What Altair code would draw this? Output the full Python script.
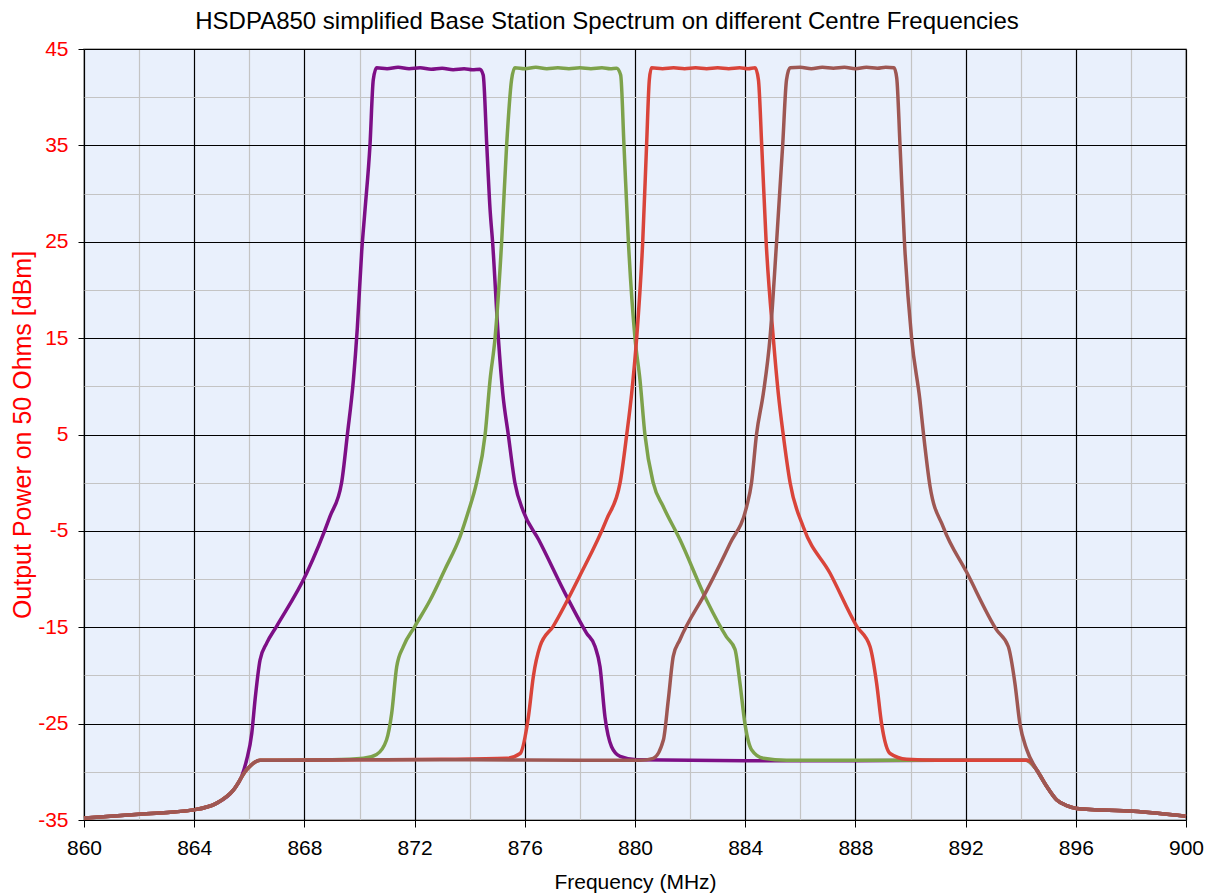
import altair as alt
import pandas as pd

# ---- data ----
series_names = ["872.5 MHz", "877.5 MHz", "882.5 MHz", "887.5 MHz"]
series_colors = ["#7d0f86", "#7da24b", "#d9443a", "#9e5753"]

purple_x = [860, 862, 863.97, 864.82, 865.42, 865.72, 865.9, 866.09, 866.21, 866.39, 866.63, 866.99,
            868.08, 868.93, 869.35, 869.56, 869.78, 869.92, 870.08, 870.2, 870.38, 870.5, 870.62,
            871.0, 871.4, 871.8, 872.2, 872.6, 873.0, 873.4, 873.8, 874.1, 874.37,
            874.49, 874.62, 874.74, 874.83, 875.04, 875.2, 875.4, 875.64, 875.95, 876.5, 877.52,
            878.24, 878.55, 878.73, 878.91, 879.15, 879.46, 880.06, 884, 888, 891, 894.2,
            894.58, 894.94, 895.3, 895.67, 896.03, 898.09, 900]
purple_y = [-34.8, -34.4, -33.95, -33.25, -31.9, -30.5, -28.8, -26.0, -22.5, -18.4, -16.65, -14.9,
            -9.4, -3.5, 0, 5, 10.7, 16, 24, 28.3, 35, 41.8, 43.05,
            42.95, 43.1, 42.95, 43.05, 42.9, 43.0, 42.85, 42.95, 42.85, 42.9,
            42.3, 35, 28.3, 25, 15, 9.3, 5, 0, -3.0, -5.9, -11.8,
            -15.6, -17.0, -19.1, -24.3, -27.4, -28.4, -28.75, -28.85, -28.85, -28.8, -28.8,
            -29.8, -31.5, -32.9, -33.5, -33.8, -34.1, -34.6]

green_x = [860, 862, 863.97, 864.82, 865.42, 865.9, 866.39, 867, 869, 870.14, 870.62, 870.98,
           871.17, 871.35, 871.59, 872.01, 872.56, 873.1, 873.65, 873.95, 874.25, 874.56, 874.74,
           874.92, 875.16, 875.34, 875.52, 875.64,
           876.0, 876.4, 876.8, 877.2, 877.6, 878.0, 878.4, 878.8, 879.1, 879.33,
           879.48, 879.6, 879.76, 880.0, 880.18, 880.36, 880.66, 881.03, 881.63, 882.6,
           883.32, 883.63, 883.81, 883.99, 884.23, 884.66, 885.5, 888, 891, 894.2,
           894.58, 894.94, 895.3, 895.67, 896.03, 898.09, 900]
green_y = [-34.8, -34.4, -33.95, -33.25, -31.9, -29.8, -28.8, -28.8, -28.75, -28.6, -28.2, -26.7,
           -23.9, -19.1, -17.0, -14.9, -12.2, -9.0, -5.6, -3.0, 0, 5, 10.7,
           15, 25, 35, 41.8, 43.05,
           42.95, 43.1, 42.95, 43.05, 42.95, 43.05, 42.95, 43.05, 42.95, 43.0,
           42.3, 35, 25, 15, 10.7, 5, 0, -2.5, -5.9, -12.2,
           -16.0, -17.3, -20.8, -25.0, -27.7, -28.6, -28.8, -28.8, -28.8, -28.8,
           -29.8, -31.5, -32.9, -33.5, -33.8, -34.1, -34.6]

red_x = [860, 862, 863.97, 864.82, 865.42, 865.9, 866.39, 867, 870, 873, 875.34, 875.83,
         876.13, 876.31, 876.55, 877.03, 877.99, 878.97, 879.46, 879.7, 879.88, 880.06, 880.28,
         880.42, 880.52, 880.6,
         881.0, 881.4, 881.8, 882.2, 882.6, 883.0, 883.4, 883.8, 884.1, 884.36,
         884.48, 884.6, 884.76, 885.02, 885.2, 885.38, 885.63, 886.11, 887.08, 888.05,
         888.53, 888.77, 888.95, 889.26, 889.86, 891, 894.2, 894.34,
         894.58, 894.94, 895.3, 895.67, 896.03, 898.09, 900]
red_y = [-34.8, -34.4, -33.95, -33.25, -31.9, -29.8, -28.8, -28.8, -28.75, -28.7, -28.6, -28.1,
         -24.3, -20.1, -17.0, -14.9, -9.7, -3.8, 0, 5, 9.3, 15, 25,
         35, 41.8, 43.05,
         42.95, 43.05, 42.95, 43.05, 42.95, 43.05, 42.95, 43.05, 42.95, 43.05,
         41.8, 35, 25, 15, 9.3, 5, 0, -4.6, -9.4, -14.9,
         -17.0, -20.8, -25.0, -28.1, -28.7, -28.8, -28.8, -28.9,
         -29.8, -31.5, -32.9, -33.5, -33.8, -34.1, -34.6]

brown_x = [860, 862, 863.97, 864.82, 865.42, 865.9, 866.39, 867, 870, 874, 878, 880.18,
           880.66, 881.03, 881.21, 881.39, 881.63, 882.6, 883.45, 884.05, 884.23, 884.41, 884.66,
           884.9, 885.14, 885.36, 885.5, 885.63,
           886.0, 886.4, 886.8, 887.2, 887.6, 888.0, 888.4, 888.8, 889.1, 889.4,
           889.5, 889.62, 889.78, 890.04, 890.34, 890.47, 890.71, 891.19, 892.04, 893.13,
           893.55, 893.79, 893.97, 894.22,
           894.58, 894.94, 895.3, 895.67, 896.03, 898.09, 900]
brown_y = [-34.8, -34.4, -33.95, -33.25, -31.9, -29.8, -28.8, -28.8, -28.75, -28.75, -28.8, -28.8,
           -28.6, -26.7, -22.5, -18.0, -16.3, -11.2, -6.3, -2.5, 0, 5, 9.3,
           15, 25, 35, 41.8, 43.05,
           43.1, 42.95, 43.1, 43.0, 43.1, 42.95, 43.1, 43.0, 43.1, 43.05,
           42.0, 35, 25, 15, 8.6, 5.1, -0.4, -4.6, -9.3, -15.3,
           -17.0, -20.8, -25.0, -27.7,
           -29.8, -31.5, -32.9, -33.5, -33.8, -34.1, -34.6]

x_grid = [860, 862, 864, 866, 868, 870, 872, 874, 876, 878, 880, 882, 884, 886, 888, 890,
          892, 894, 896, 898, 900]
y_grid = [-35, -30, -25, -20, -15, -10, -5, 0, 5, 10, 15, 20, 25, 30, 35, 40, 45]

# ---- build table ----
frames = []
for i, (nm, xs, ys) in enumerate(zip(series_names,
                                     [purple_x, green_x, red_x, brown_x],
                                     [purple_y, green_y, red_y, brown_y])):
    frames.append(pd.DataFrame({"freq": xs, "power": ys, "series": nm, "order": i}))
df = pd.concat(frames, ignore_index=True)
df["idx"] = range(len(df))

x_axis = alt.Axis(
    values=x_grid,
    labelExpr="(datum.value - 860) % 4 === 0 ? ('' + datum.value) : ''",
    gridColor={"condition": {"test": "(datum.value - 860) % 4 === 0", "value": "#000000"},
               "value": "#c4c4c4"},
    gridWidth=1.2,
    tickColor={"condition": {"test": "(datum.value - 860) % 4 === 0", "value": "#000000"},
               "value": "transparent"},
    tickSize=7,
    labelFontSize=21,
    labelColor="#000000",
    labelFont="Liberation Sans",
    labelPadding=10,
    labelOverlap=False,
    labelFlush=False,
    labelBound=False,
    domain=False,
    title="Frequency (MHz)",
    titleFont="Liberation Sans",
    titleFontSize=21,
    titleFontWeight="normal",
    titleColor="#000000",
    titlePadding=13,
)
y_axis = alt.Axis(
    values=y_grid,
    labelExpr="(datum.value + 35) % 10 === 0 ? ('' + datum.value) : ''",
    gridColor={"condition": {"test": "(datum.value + 35) % 10 === 0", "value": "#000000"},
               "value": "#c4c4c4"},
    gridWidth=1.2,
    tickColor={"condition": {"test": "(datum.value + 35) % 10 === 0", "value": "#000000"},
               "value": "transparent"},
    tickSize=6,
    labelFontSize=21,
    labelColor="#ff0000",
    labelFont="Liberation Sans",
    labelPadding=10,
    labelOverlap=False,
    labelFlush=False,
    labelBound=False,
    domain=False,
    title="Output Power on 50 Ohms [dBm]",
    titleFont="Liberation Sans",
    titleFontSize=25,
    titleFontWeight="normal",
    titleColor="#ff0000",
    titlePadding=2,
)

chart = alt.Chart(df).mark_line(strokeWidth=3.5, interpolate="monotone").encode(
    x=alt.X("freq:Q", scale=alt.Scale(domain=[860, 900], nice=False, zero=False), axis=x_axis),
    y=alt.Y("power:Q", scale=alt.Scale(domain=[-35, 45], nice=False, zero=False), axis=y_axis),
    color=alt.Color("series:N", scale=alt.Scale(domain=series_names, range=series_colors), legend=None),
    order=alt.Order("idx:Q"),
    detail="order:O",
).properties(
    width=1102,
    height=771,
    title=alt.TitleParams(
        "HSDPA850 simplified Base Station Spectrum on different Centre Frequencies",
        font="Liberation Sans", fontSize=24, fontWeight="normal", color="#000000",
        anchor="middle", offset=4, dx=-28,
    ),
    autosize=alt.AutoSizeParams(type="none"),
    padding={"left": 84, "top": 49, "right": 20, "bottom": 74},
    background="#ffffff",
).configure_view(
    fill="#e9f0fc", stroke="#9a9a9a", strokeWidth=1.5,
)

chart.save("out.html", embed_options={"renderer": "svg", "actions": False})
